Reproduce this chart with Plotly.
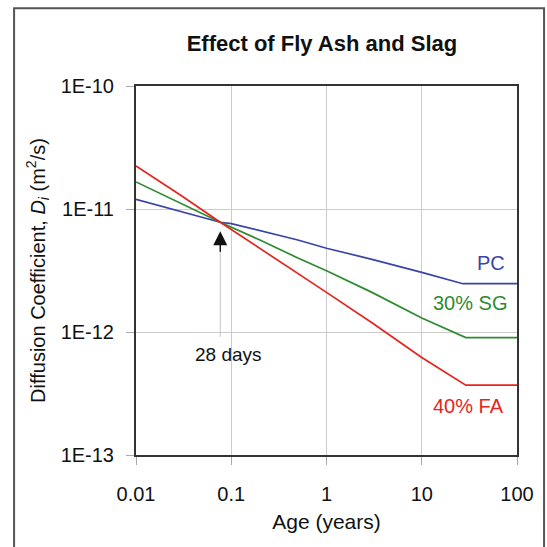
import math
import plotly.graph_objects as go

# ---- data ----
age_pc = [0.01, 0.03, 0.0767, 0.1, 0.2, 0.5, 1, 3, 10, 27, 100]
d_pc = [1.2e-11, 9.5e-12, 7.8e-12, 7.6e-12, 6.7e-12, 5.6e-12, 4.8e-12, 3.9e-12, 3.05e-12, 2.47e-12, 2.47e-12]

age_sg = [0.01, 0.03, 0.0767, 0.2, 0.5, 1, 3, 10, 29, 100]
d_sg = [1.66e-11, 1.11e-11, 7.8e-12, 5.6e-12, 4.0e-12, 3.15e-12, 2.1e-12, 1.3e-12, 9.0e-13, 9.0e-13]

age_fa = [0.01, 0.03, 0.0767, 0.2, 0.5, 1, 3, 10, 29, 100]
d_fa = [2.24e-11, 1.28e-11, 7.8e-12, 4.8e-12, 3.0e-12, 2.1e-12, 1.19e-12, 6.2e-13, 3.7e-13, 3.7e-13]

series_names = ["PC", "30% SG", "40% FA"]
series_labels = ["PC", "30% SG", "40% FA"]
age_28d = 28 / 365.25
marker_line_d = [9.1e-13, 4.9e-12]
arrow_tip_d = 6.6e-12

x_ticks = [0.01, 0.1, 1, 10, 100]
x_tick_text = ["0.01", "0.1", "1", "10", "100"]
y_ticks = [1e-13, 1e-12, 1e-11, 1e-10]
y_tick_text = ["1E-13", "1E-12", "1E-11", "1E-10"]

colors = ["#3a44a6", "#2e8b30", "#e8231c"]
FONT = "Liberation Sans, Arial, sans-serif"

fig = go.Figure()
for ages, vals, name, c in zip([age_pc, age_sg, age_fa], [d_pc, d_sg, d_fa], series_names, colors):
    fig.add_trace(go.Scatter(x=ages, y=vals, mode="lines", name=name,
                             line=dict(color=c, width=1.7), showlegend=False))

# 28-day marker line
fig.add_trace(go.Scatter(x=[age_28d, age_28d], y=marker_line_d, mode="lines",
                         line=dict(color="#c4c4c4", width=1), showlegend=False, hoverinfo="skip"))

fig.add_annotation(x=math.log10(age_28d), y=math.log10(arrow_tip_d), xref="x", yref="y",
                   text="", showarrow=True, ax=0, ay=22, axref="pixel", ayref="pixel",
                   arrowhead=2, arrowsize=2.0, arrowwidth=1.4, arrowcolor="#111111")
fig.add_annotation(x=math.log10(age_28d), y=math.log10(marker_line_d[0]), xref="x", yref="y",
                   text="28 days", showarrow=False, xanchor="center", yanchor="top",
                   xshift=8, yshift=-5, font=dict(size=19, color="#111111", family=FONT))

label_pos = [(0.974, 0.520), (0.979, 0.412), (0.971, 0.133)]
for txt, c, (px, py) in zip(series_labels, colors, label_pos):
    fig.add_annotation(x=px, y=py, xref="paper", yref="paper", text=txt, showarrow=False,
                       xanchor="right", yanchor="middle",
                       font=dict(size=20, color=c, family=FONT))

# outer frame
fig.add_shape(type="rect", xref="paper", yref="paper", x0=-0.320, x1=1.071, y0=-0.30, y1=1.211,
              line=dict(color="#555555", width=2), layer="below")

fig.update_layout(
    width=547, height=547,
    margin=dict(l=136, r=30, t=86, b=92),
    paper_bgcolor="white", plot_bgcolor="white",
    font=dict(family=FONT, color="#111111", size=20),
    title=dict(text="<b>Effect of Fly Ash and Slag</b>", x=0.488, xref="paper",
               y=1 - 43 / 547, yref="container", xanchor="center", yanchor="middle",
               font=dict(size=22, family=FONT, color="#111111")),
)
fig.update_xaxes(type="log", range=[-2, 2], tickvals=x_ticks, ticktext=x_tick_text,
                 showgrid=True, gridcolor="#cccccc", gridwidth=1,
                 showline=True, linecolor="#333333", linewidth=2, mirror=True,
                 ticks="outside", ticklen=8, tickcolor="#aaaaaa", ticklabelstandoff=12,
                 tickfont=dict(size=20),
                 title=dict(text="Age (years)", font=dict(size=21), standoff=10), zeroline=False)
fig.update_yaxes(type="log", range=[-13, -10], tickvals=y_ticks, ticktext=y_tick_text,
                 showgrid=True, gridcolor="#cccccc", gridwidth=1,
                 showline=True, linecolor="#333333", linewidth=2, mirror=True,
                 ticks="outside", ticklen=8, tickcolor="#aaaaaa", ticklabelstandoff=8,
                 tickfont=dict(size=20),
                 title=dict(text="Diffusion Coefficient, <i>D</i><sub><i>i</i></sub> (m<sup>2</sup>/s)",
                            font=dict(size=20), standoff=10), zeroline=False)

fig.write_html("out.html")
